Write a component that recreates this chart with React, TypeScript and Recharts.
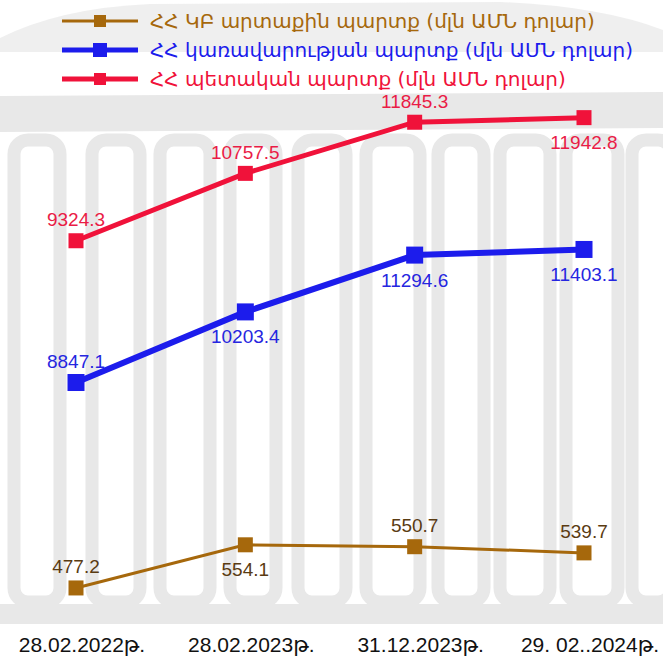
import { LabelList, Line, LineChart, XAxis, YAxis } from "recharts";

const DATES = ["28.02.2022թ.", "28.02.2023թ.", "31.12.2023թ.", "29. 02..2024թ."];

const CB_DEBT = [477.2, 554.1, 550.7, 539.7];
const GOV_DEBT = [8847.1, 10203.4, 11294.6, 11403.1];
const STATE_DEBT = [9324.3, 10757.5, 11845.3, 11942.8];

const CB_NAME = "ՀՀ ԿԲ արտաքին պարտք (մլն ԱՄՆ դոլար)";
const GOV_NAME = "ՀՀ կառավարության պարտք (մլն ԱՄՆ դոլար)";
const STATE_NAME = "ՀՀ պետական պարտք (մլն ԱՄՆ դոլար)";

const BROWN = "#a6680c";
const BROWN_TEXT = "#5a3b12";
const BLUE = "#1c1cec";
const BLUE_TEXT = "#2626e0";
const RED = "#f0123a";
const RED_TEXT = "#ea1c46";
const WATERMARK = "#e8e8e8";

const LABEL_FONT = "'Liberation Sans', Arial, 'DejaVu Sans', sans-serif";

// which side of the point each value label sits on
const CB_SIDE = ["up", "down", "up", "up"];
const GOV_SIDE = ["up", "down", "down", "down"];
const STATE_SIDE = ["up", "up", "up", "down"];

const data = DATES.map((date, i) => ({
  date,
  cb: CB_DEBT[i],
  gov: GOV_DEBT[i],
  state: STATE_DEBT[i],
}));

function squareDot(color: string, size: number) {
  return (props: any) => (
    <rect
      key={`dot-${props.index}`}
      x={props.cx - size / 2}
      y={props.cy - size / 2}
      width={size}
      height={size}
      fill={color}
    />
  );
}

function valueLabel(color: string, sides: string[]) {
  return (props: any) => {
    const { x, y, value, index } = props;
    const up = sides[index] === "up";
    return (
      <text
        x={x}
        y={up ? y - 21 : y + 25}
        fill={color}
        fontSize={19}
        fontFamily={LABEL_FONT}
        textAnchor="middle"
        dominantBaseline="central"
      >
        {Number(value).toFixed(1)}
      </text>
    );
  };
}

// loose sketch of the faded building behind the chart
function Watermark() {
  const columns = [
    [14, 46], [92, 48], [160, 50], [230, 46], [298, 48],
    [366, 54], [438, 46], [500, 50], [566, 52], [632, 40],
  ];
  return (
    <svg width={663} height={659} style={{ position: "absolute", left: 0, top: 0 }}>
      <path d="M0 38 Q60 8 150 4 L500 2 Q600 6 663 30 L663 52 L0 52 Z" fill={WATERMARK} opacity={0.7} />
      <path d="M0 96 L663 92 L663 128 L0 132 Z" fill={WATERMARK} />
      {columns.map(([x, w]) => (
        <rect
          key={x}
          x={x}
          y={140}
          width={w}
          height={462}
          rx={14}
          fill="none"
          stroke={WATERMARK}
          strokeWidth={13}
        />
      ))}
      <rect x={0} y={604} width={663} height={20} fill={WATERMARK} />
    </svg>
  );
}

function LegendRow({
  name,
  color,
  lineWidth,
  markerSize,
}: {
  name: string;
  color: string;
  lineWidth: number;
  markerSize: number;
}) {
  return (
    <div style={{ display: "flex", alignItems: "center", height: 29 }}>
      <svg width={78} height={20} style={{ flex: "none" }}>
        <line x1={0} x2={76} y1={10} y2={10} stroke={color} strokeWidth={lineWidth} />
        <rect
          x={38 - markerSize / 2}
          y={10 - markerSize / 2}
          width={markerSize}
          height={markerSize}
          fill={color}
        />
      </svg>
      <span
        style={{
          marginLeft: 10,
          color,
          fontSize: 20,
          fontFamily: "'DejaVu Sans', sans-serif",
          whiteSpace: "nowrap",
        }}
      >
        {name}
      </span>
    </div>
  );
}

export default function App() {
  return (
    <div
      style={{
        position: "absolute",
        left: 0,
        top: 0,
        width: 663,
        height: 659,
        background: "#ffffff",
        overflow: "hidden",
      }}
    >
      <Watermark />
      <div style={{ position: "absolute", left: 0, top: 0 }}>
        <LineChart
          width={663}
          height={659}
          data={data}
          margin={{ top: 0, right: 79, left: 76, bottom: 0 }}
        >
          <XAxis
            dataKey="date"
            height={44}
            axisLine={false}
            tickLine={false}
            tickMargin={16}
            interval={0}
            tick={{ fill: "#111111", fontSize: 21, fontFamily: LABEL_FONT, dx: 6 }}
          />
          <YAxis yAxisId="cb" hide domain={[429, 1525]} />
          <YAxis yAxisId="gov" hide domain={[4381, 16195]} />
          <YAxis yAxisId="state" hide domain={[1364, 14445]} />
          <Line
            yAxisId="cb"
            dataKey="cb"
            name={CB_NAME}
            stroke={BROWN}
            strokeWidth={3}
            dot={squareDot(BROWN, 15)}
            isAnimationActive={false}
          >
            <LabelList dataKey="cb" content={valueLabel(BROWN_TEXT, CB_SIDE)} />
          </Line>
          <Line
            yAxisId="gov"
            dataKey="gov"
            name={GOV_NAME}
            stroke={BLUE}
            strokeWidth={6}
            dot={squareDot(BLUE, 17)}
            isAnimationActive={false}
          >
            <LabelList dataKey="gov" content={valueLabel(BLUE_TEXT, GOV_SIDE)} />
          </Line>
          <Line
            yAxisId="state"
            dataKey="state"
            name={STATE_NAME}
            stroke={RED}
            strokeWidth={5}
            dot={squareDot(RED, 15)}
            isAnimationActive={false}
          >
            <LabelList dataKey="state" content={valueLabel(RED_TEXT, STATE_SIDE)} />
          </Line>
        </LineChart>
      </div>

      <div style={{ position: "absolute", left: 62, top: 6 }}>
        <LegendRow name={CB_NAME} color={BROWN} lineWidth={3} markerSize={12} />
        <LegendRow name={GOV_NAME} color={BLUE} lineWidth={5} markerSize={14} />
        <LegendRow name={STATE_NAME} color={RED} lineWidth={5} markerSize={12} />
      </div>
    </div>
  );
}
